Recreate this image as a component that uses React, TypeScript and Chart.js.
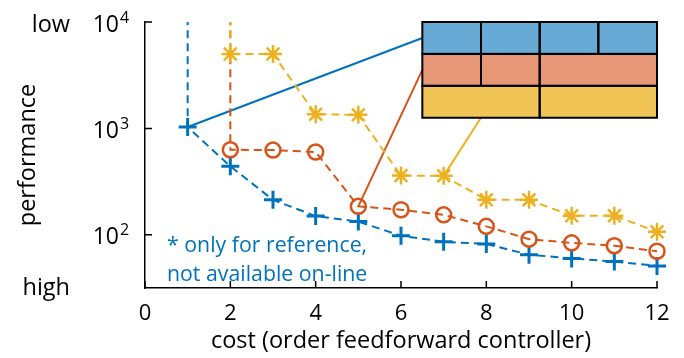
import React, { useEffect, useRef } from 'react';
import { Chart, registerables } from 'chart.js';

Chart.register(...registerables);

const FONT = "'Open Sans', 'DejaVu Sans', sans-serif";

// series values (first point of each series lies off the top of the chart)
const OFF = 1e6;
const blueX = [1, 1, 2, 3, 4, 5, 6, 7, 8, 9, 10, 11, 12];
const blueY = [OFF, 1030, 440, 213, 150, 133, 98, 86, 82, 65, 60, 56, 51];
const orangeX = [2, 2, 3, 4, 5, 6, 7, 8, 9, 10, 11, 12];
const orangeY = [OFF, 630, 625, 600, 185, 172, 154, 120, 91, 84, 79, 70];
const yellowX = [2, 2, 3, 4, 5, 6, 7, 8, 9, 10, 11, 12];
const yellowY = [OFF, 5000, 5000, 1360, 1340, 360, 358, 213, 213, 151, 151, 107];

// link lines from markers to the partition boxes (data coordinates)
const linkBlueX = [1, 6.5];
const linkBlueY = [1030, 7080];
const linkOrangeX = [5, 6.5];
const linkOrangeY = [185, 3548];
const linkYellowX = [7, 7.875];
const linkYellowY = [358, 1259];

// partition box (data coordinates)
const boxRowEdges = [10000, 5012, 2512, 1259];
const boxBlueSplits = [6.5, 7.875, 9.25, 10.625, 12];
const boxOrangeSplits = [6.5, 7.875, 9.25, 12];
const boxYellowSplits = [6.5, 9.25, 12];

// ticks
const xTickValues = [0, 2, 4, 6, 8, 10, 12];
const yTickValues = [100, 1000, 10000];

const BLUE = '#0072BD';
const ORANGE = '#D95319';
const YELLOW = '#EDB120';
const BOX_COLORS = ['#66AAD5', '#E89876', '#F0C455'];

const toPts = (xs: number[], ys: number[]) => xs.map((x, i) => ({ x, y: ys[i] }));

const customPlugin = {
  id: 'customDraw',
  afterDatasetsDraw(chart: any) {
    const ctx = chart.ctx;
    const xs = chart.scales.x;
    const ys = chart.scales.y;
    const rows = [boxBlueSplits, boxOrangeSplits, boxYellowSplits];
    ctx.save();
    rows.forEach((splits, r) => {
      const top = ys.getPixelForValue(boxRowEdges[r]);
      const bot = ys.getPixelForValue(boxRowEdges[r + 1]);
      for (let i = 0; i < splits.length - 1; i++) {
        const l = xs.getPixelForValue(splits[i]);
        const rr = xs.getPixelForValue(splits[i + 1]);
        ctx.fillStyle = BOX_COLORS[r];
        ctx.fillRect(l, top, rr - l, bot - top);
      }
    });
    ctx.strokeStyle = '#000';
    ctx.lineWidth = 2;
    rows.forEach((splits, r) => {
      const top = ys.getPixelForValue(boxRowEdges[r]);
      const bot = ys.getPixelForValue(boxRowEdges[r + 1]);
      for (let i = 0; i < splits.length - 1; i++) {
        const l = xs.getPixelForValue(splits[i]);
        const rr = xs.getPixelForValue(splits[i + 1]);
        ctx.strokeRect(l, top, rr - l, bot - top);
      }
    });
    ctx.restore();
  },
  afterDraw(chart: any) {
    const ctx = chart.ctx;
    const xs = chart.scales.x;
    const ys = chart.scales.y;
    const area = chart.chartArea;
    ctx.save();
    // inward ticks
    ctx.strokeStyle = '#000';
    ctx.lineWidth = 1.5;
    ctx.beginPath();
    xTickValues.forEach((v) => {
      const px = xs.getPixelForValue(v);
      ctx.moveTo(px, area.bottom);
      ctx.lineTo(px, area.bottom - 7);
    });
    yTickValues.forEach((v) => {
      const py = ys.getPixelForValue(v);
      ctx.moveTo(area.left, py);
      ctx.lineTo(area.left + 7, py);
    });
    ctx.stroke();

    // y tick labels 10^n
    ctx.fillStyle = '#000';
    yTickValues.forEach((v) => {
      const py = ys.getPixelForValue(v);
      const exp = String(Math.round(Math.log10(v)));
      ctx.font = `23px ${FONT}`;
      ctx.textAlign = 'right';
      ctx.textBaseline = 'middle';
      ctx.fillText('10', area.left - 26, py + 3);
      ctx.font = `16px ${FONT}`;
      ctx.textAlign = 'left';
      ctx.fillText(exp, area.left - 25, py - 4);
    });

    // low / high
    ctx.font = `23.5px ${FONT}`;
    ctx.textAlign = 'right';
    ctx.textBaseline = 'alphabetic';
    ctx.fillText('low', 70, 32);
    ctx.fillText('high', 70, 295);

    // performance (rotated)
    ctx.save();
    ctx.translate(28, (area.top + area.bottom) / 2);
    ctx.rotate(-Math.PI / 2);
    ctx.textAlign = 'center';
    ctx.textBaseline = 'middle';
    ctx.fillText('performance', 0, 0);
    ctx.restore();

    // x title
    ctx.textAlign = 'center';
    ctx.textBaseline = 'middle';
    ctx.fillText('cost (order feedforward controller)', (area.left + area.right) / 2, 341);

    // note
    ctx.fillStyle = BLUE;
    ctx.font = `21.3px ${FONT}`;
    ctx.textAlign = 'left';
    ctx.textBaseline = 'alphabetic';
    ctx.fillText('* only for reference,', 167, 252);
    ctx.fillText('not available on-line', 167, 281);
    ctx.restore();
  },
};

const seriesClip = { left: 20, right: 20, top: 0, bottom: 20 };

export default function App() {
  const ref = useRef<HTMLCanvasElement>(null);
  useEffect(() => {
    if (!ref.current) return;
    const markerR = (r: number) => (c: any) => (c.dataIndex === 0 ? 0 : r);
    const chart = new Chart(ref.current, {
      type: 'line',
      data: {
        datasets: [
          {
            data: toPts(yellowX, yellowY),
            borderColor: YELLOW,
            backgroundColor: 'transparent',
            borderWidth: 2,
            borderDash: [8, 5],
            pointStyle: 'star',
            pointRadius: markerR(9),
            pointBorderWidth: 2.5,
            pointBorderColor: YELLOW,
            clip: seriesClip,
            order: 1,
          } as any,
          {
            data: toPts(orangeX, orangeY),
            borderColor: ORANGE,
            backgroundColor: 'transparent',
            borderWidth: 2,
            borderDash: [8, 5],
            pointStyle: 'circle',
            pointRadius: markerR(7.5),
            pointBorderWidth: 2.5,
            pointBorderColor: ORANGE,
            pointBackgroundColor: 'transparent',
            clip: seriesClip,
            order: 2,
          } as any,
          {
            data: toPts(blueX, blueY),
            borderColor: BLUE,
            backgroundColor: 'transparent',
            borderWidth: 2,
            borderDash: [8, 5],
            pointStyle: 'cross',
            pointRadius: markerR(9),
            pointBorderWidth: 3,
            pointBorderColor: BLUE,
            clip: seriesClip,
            order: 3,
          } as any,
          {
            data: toPts(linkBlueX, linkBlueY),
            borderColor: BLUE,
            borderWidth: 2,
            pointRadius: 0,
            order: 4,
          },
          {
            data: toPts(linkOrangeX, linkOrangeY),
            borderColor: ORANGE,
            borderWidth: 2,
            pointRadius: 0,
            order: 4,
          },
          {
            data: toPts(linkYellowX, linkYellowY),
            borderColor: YELLOW,
            borderWidth: 2,
            pointRadius: 0,
            order: 4,
          },
        ],
      },
      options: {
        animation: false,
        responsive: false,
        devicePixelRatio: 1,
        layout: { padding: { top: 22, right: 27, left: 0, bottom: 0 } },
        plugins: { legend: { display: false }, tooltip: { enabled: false } },
        scales: {
          x: {
            type: 'linear',
            min: 0,
            max: 12,
            grid: { display: false },
            border: { display: true, color: '#000', width: 1.5 },
            ticks: {
              stepSize: 2,
              color: '#000',
              font: { family: FONT, size: 22 },
              padding: 5,
              maxRotation: 0,
            },
            afterFit: (s: any) => {
              s.height = 70;
            },
          },
          y: {
            type: 'logarithmic',
            min: 31.62,
            max: 10000,
            grid: { display: false },
            border: { display: true, color: '#000', width: 1.5 },
            ticks: { display: false },
            afterFit: (s: any) => {
              s.width = 145;
            },
          },
        },
      } as any,
      plugins: [customPlugin],
    });
    return () => chart.destroy();
  }, []);
  return (
    <div style={{ position: 'fixed', left: 0, top: 0, width: 684, height: 358, background: '#fff' }}>
      <canvas ref={ref} width={684} height={358} style={{ width: 684, height: 358 }} />
    </div>
  );
}
